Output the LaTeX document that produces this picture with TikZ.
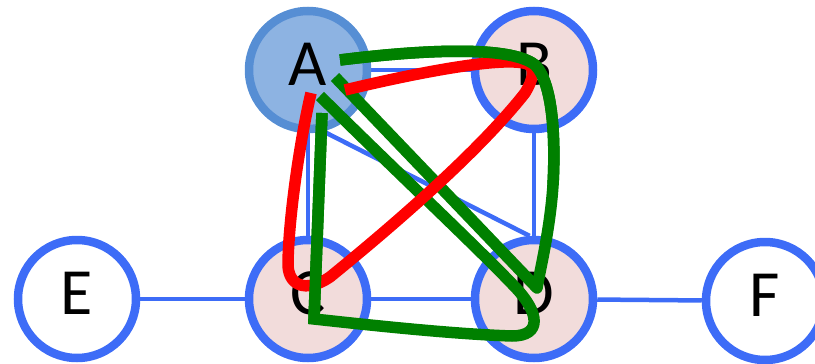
\documentclass[tikz,border=0pt]{standalone}
\usepackage{fontspec}
\setmainfont{Carlito}
\usetikzlibrary{backgrounds}
\definecolor{vblue}{RGB}{61,108,247}
\definecolor{afill}{RGB}{141,179,226}
\definecolor{aborder}{RGB}{86,142,212}
\definecolor{pinkfill}{RGB}{242,220,219}
\definecolor{hred}{RGB}{255,0,0}
\definecolor{hgreen}{RGB}{0,128,0}
\begin{document}
\begin{tikzpicture}[x=1pt,y=-1pt,
  vtx/.style={circle,draw=vblue,line width=8.5pt,minimum size=118pt,inner sep=0pt,fill=white},
  lbl/.style={font=\fontsize{66}{66}\selectfont,yshift=6pt},
  edge/.style={draw=vblue,line width=4.5pt},
  hlg/.style={draw=hgreen,line width=11.5pt,line cap=butt},
  hlr/.style={draw=hred,line width=11.5pt,line cap=butt}]
\useasboundingbox (0,0) rectangle (815,364);
% vertices
\node[vtx,fill=afill,draw=aborder,label={[lbl]center:A}] (A) at (308,70) {};
\node[vtx,fill=pinkfill,label={[lbl]center:B}] (B) at (534,70) {};
\node[vtx,fill=pinkfill,label={[lbl]center:C}] (C) at (308,299) {};
\node[vtx,fill=pinkfill,label={[lbl]center:D}] (D) at (534,299) {};
\node[vtx,label={[lbl]center:E}] (E) at (77,299) {};
\node[vtx,label={[lbl]center:F}] (F) at (765,301) {};
% edges
\begin{scope}[on background layer]
  \draw[edge] (A) -- (B);
  \draw[edge] (A) -- (C);
  \draw[edge] (B) -- (D);
  \draw[edge] (C) -- (D);
  \draw[edge] (E) -- (C);
  \draw[edge] (D) -- (F);
  \draw[edge] (A.-76) -- (D.94);
\end{scope}
% green highlight A-B-D-A
\draw[hlg,line join=round] (340,60) .. controls (420,50) and (510,45) .. (535,65)
  .. controls (555,85) and (555,150) .. (553,185)
  .. controls (550,230) and (540,270) .. (537,288) -- (335,77);
% green highlight A-D-C-A
\draw[hlg,line join=miter] (320,96) .. controls (400,175) and (480,250) .. (515,287)
  .. controls (540,313) and (542,336) .. (512,336)
  .. controls (450,334) and (360,324) .. (314,319) -- (322,113);
% red highlight A-B-C-A
\draw[hlr,line join=round] (345,90) .. controls (420,72) and (505,56) .. (527,64)
  .. controls (536,67) and (533,80) .. (525,93)
  .. controls (480,150) and (400,220) .. (330,277)
  .. controls (305,294) and (287,285) .. (288,262)
  .. controls (289,215) and (300,140) .. (311,93);
% green parts lying over the red
\draw[hlg] (340,60) .. controls (420,50) and (510,45) .. (535,65)
  .. controls (555,85) and (555,150) .. (553,185);
\draw[hlg] (314,319) -- (322,113);
\end{tikzpicture}
\end{document}
